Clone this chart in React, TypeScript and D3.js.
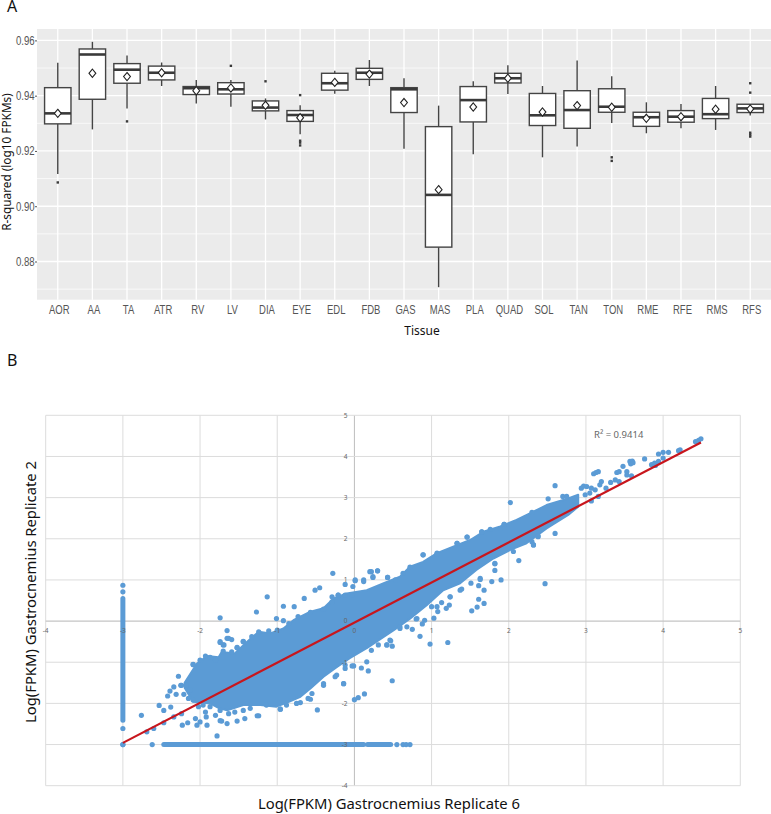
import * as d3 from 'd3';
import React, { useEffect, useRef } from 'react';

// Panel A: R-squared per tissue
const tissues = ['AOR', 'AA', 'TA', 'ATR', 'RV', 'LV', 'DIA', 'EYE', 'EDL', 'FDB', 'GAS', 'MAS', 'PLA', 'QUAD', 'SOL', 'TAN', 'TON', 'RME', 'RFE', 'RMS', 'RFS'];
const whiskerHigh = [0.9519, 0.9595, 0.9545, 0.952, 0.9457, 0.9457, 0.939, 0.9365, 0.949, 0.9529, 0.9463, 0.9364, 0.9452, 0.951, 0.9435, 0.9527, 0.947, 0.9376, 0.937, 0.9435, 0.9369];
const q3 = [0.9429, 0.9569, 0.9516, 0.9507, 0.9433, 0.9447, 0.9381, 0.9346, 0.9481, 0.9499, 0.9429, 0.9288, 0.9433, 0.9481, 0.9408, 0.9418, 0.9425, 0.934, 0.9346, 0.939, 0.9369];
const medians = [0.9336, 0.9549, 0.9494, 0.9483, 0.9427, 0.9423, 0.9357, 0.933, 0.9445, 0.9483, 0.9423, 0.9041, 0.9384, 0.9463, 0.9329, 0.9348, 0.936, 0.9322, 0.9324, 0.9333, 0.9354];
const q1 = [0.9298, 0.9387, 0.9445, 0.9457, 0.9404, 0.9406, 0.9345, 0.9307, 0.942, 0.9459, 0.9339, 0.8852, 0.9305, 0.9446, 0.9292, 0.9282, 0.934, 0.9289, 0.9304, 0.9317, 0.9339];
const whiskerLow = [0.9117, 0.9278, 0.9354, 0.9435, 0.9372, 0.936, 0.9314, 0.926, 0.9407, 0.9435, 0.9208, 0.8707, 0.9188, 0.9406, 0.9177, 0.9216, 0.9301, 0.9264, 0.9282, 0.9276, 0.9328];
const means = [0.9336, 0.9481, 0.9469, 0.9483, 0.9418, 0.9428, 0.9365, 0.932, 0.9448, 0.9478, 0.9375, 0.906, 0.9359, 0.9463, 0.9341, 0.9364, 0.9358, 0.9318, 0.9324, 0.9351, 0.9352];
const boxOutliers: [string, number][] = [
  ['AOR', 0.9086], ['TA', 0.9307], ['LV', 0.9508], ['DIA', 0.9452], ['EYE', 0.9402], ['EYE', 0.9237], ['EYE', 0.923], ['EYE', 0.922],
  ['TON', 0.9177], ['TON', 0.9164], ['RFS', 0.9445], ['RFS', 0.9411], ['RFS', 0.9266], ['RFS', 0.9259], ['RFS', 0.9252],
];
const rTicks = [0.88, 0.9, 0.92, 0.94, 0.96];
const rMinorTicks = [0.87, 0.89, 0.91, 0.93, 0.95];

// Panel B: replicate scatter. The packed middle of the cloud is kept as its upper and lower edge.
const cloudTop: [number, number][] = [
  [-2.2, -1.5], [-2.04, -1.03], [-1.91, -0.85], [-1.76, -0.88], [-1.72, -0.75], [-1.55, -0.79], [-1.39, -0.5], [-1.24, -0.26], [-1.09, -0.3],
  [-0.92, -0.18], [-0.79, 0.02], [-0.57, 0.23], [-0.4, 0.31], [-0.27, 0.55], [-0.1, 0.67], [0.16, 0.75], [0.38, 0.92], [0.59, 1.08], [0.72, 1.32],
  [0.89, 1.44], [1.07, 1.65], [1.28, 1.81], [1.5, 1.97], [1.67, 2.17], [1.89, 2.3], [2.1, 2.46], [2.28, 2.62], [2.49, 2.82], [2.77, 2.98], [2.9, 3.07],
];
const cloudBottom: [number, number][] = [
  [-2.2, -1.62], [-2.09, -1.96], [-1.87, -2.0], [-1.75, -2.12], [-1.65, -2.17], [-1.44, -2.04], [-1.22, -2.04], [-1.01, -2.08], [-0.85, -1.96], [-0.7, -1.84],
  [-0.57, -1.64], [-0.4, -1.35], [-0.23, -1.12], [-0.06, -0.9], [0.16, -0.66], [0.51, -0.22], [0.72, 0.06], [0.94, 0.39], [1.15, 0.75], [1.37, 0.92],
  [1.58, 1.24], [1.8, 1.52], [2.02, 1.73], [2.23, 1.89], [2.49, 2.25], [2.77, 2.58], [2.9, 2.78],
];
// single points standing out along the edge of the packed part
const edgePoints: [number, number][] = [
  [-2.09, -1.05], [-2.0, -0.95], [-1.93, -0.85], [-1.87, -0.88], [-1.8, -0.95], [-1.7, -0.73], [-1.59, -0.75], [-1.52, -0.64], [-1.44, -0.49], [-1.33, -0.38],
  [-1.24, -0.26], [-1.11, -0.24], [-1.0, -0.22], [-0.85, -0.06], [-0.73, 0.11], [-0.57, 0.21], [-0.4, 0.29], [-0.29, 0.47], [-0.21, 0.63], [-0.03, 0.63],
  [-1.74, -0.5], [-1.65, -0.42], [-1.59, -0.45], [-1.7, -0.58], [-2.18, -1.56], [-2.25, -1.56], [-2.13, -1.68], [-2.21, -1.78], [-2.15, -1.88], [-2.09, -1.92],
  [-1.96, -2.04], [-1.87, -2.08], [-1.93, -2.21], [-2.02, -2.08], [-1.8, -2.29], [-1.74, -2.17], [-1.72, -2.43], [-1.92, -2.33], [-1.63, -2.25], [-1.55, -2.21],
  [-1.44, -2.17], [-1.35, -2.12], [-1.24, -2.3], [-1.14, -2.04], [-0.96, -2.14], [-0.88, -2.04], [-0.7, -1.98], [-0.6, -1.88], [-0.55, -1.76], [-0.4, -1.52],
  [-0.25, -1.35], [-0.14, -1.52], [-0.12, -1.15], [-0.03, -1.09], [0.01, 0.98], [0.12, 1.0], [0.2, 1.2], [0.3, 1.22], [0.24, 1.06], [0.43, 1.06], [0.53, 1.0],
  [0.63, 1.16], [0.72, 1.31], [0.89, 1.61], [1.07, 1.65], [1.33, 1.89], [1.46, 2.04], [1.65, 2.17], [1.76, 2.23], [1.94, 2.35], [2.3, 2.64], [0.46, -0.46],
  [0.22, -0.71], [0.31, -0.58], [0.59, -0.18], [0.68, -0.14], [0.81, 0.06], [1.07, 0.35], [1.0, 0.35], [1.24, 0.59], [1.37, 0.75], [1.63, 1.04], [1.82, 1.39],
  [2.06, 1.69], [2.3, 1.93], [2.32, 1.85], [2.38, 2.05],
];
const lowPoints: [number, number][] = [
  [-0.28, 1.16], [0.22, 1.2], [0.3, 1.22], [0.24, 1.08], [0.01, 1.0], [0.12, 0.96], [-0.12, 0.89], [-0.02, 0.84], [-0.12, 0.63], [-0.21, 0.63],
  [-0.29, 0.59], [-0.45, 0.81], [-0.51, 0.75], [-0.65, 0.55], [-1.13, 0.59], [-0.92, 0.36], [-0.78, 0.35], [0.43, 1.06], [-1.27, 0.22], [-1.74, 0.08],
  [-1.01, 0.06], [-0.92, 0.01], [-1.65, -0.23], [-1.74, -0.52], [-1.63, -0.42], [-1.69, -0.58], [-1.52, -0.65], [-1.44, -0.5], [-2.09, -1.06],
  [-2.28, -1.34], [-2.34, -1.6], [-2.24, -1.56], [-2.42, -1.82], [-2.39, -1.7], [-2.31, -1.78], [-2.53, -2.05], [-2.47, -2.17], [-2.38, -2.09],
  [-2.76, -2.29], [-2.69, -2.69], [-2.6, -2.61], [-2.47, -2.47], [-2.34, -2.33], [-2.24, -2.25], [-2.23, -2.53], [-2.16, -2.47], [-2.06, -2.37],
  [-2.0, -2.45], [-2.04, -2.53], [-1.78, -2.79], [-1.65, -2.49], [-1.52, -2.43], [-1.42, -2.37], [-1.74, -2.42], [-1.91, -2.53], [-1.26, -2.3],
  [-0.96, -2.14], [-0.48, -2.16], [-0.75, -2.0], [-0.57, -1.9], [-0.14, -1.52], [0, -1.91], [0.05, -1.86], [0.13, -1.77], [-0.4, -1.56],
  [-0.23, -1.31], [-0.12, -1.07], [0.18, -1.21], [0.09, -1.14], [0.16, -0.99], [-0.01, -1.09], [0.42, -0.58],
];
const midPoints: [number, number][] = [
  [2.6, 3.29], [2.02, 2.88], [2.13, 1.47], [2.47, 0.91], [1.9, 1.0], [1.82, 1.4], [1.82, 1.23], [1.78, 0.96], [1.68, 0.75], [1.61, 0.86], [1.63, 1.01],
  [1.61, 0.53], [1.68, 0.43], [1.59, 0.34], [1.52, 0.25], [1.24, 0.59], [1.23, 0.39], [1.19, 0.31], [1.13, 0.45], [1.08, 0.23], [1.03, 0.07],
  [0.91, 0.02], [0.88, -0.07], [0.8, 0.05], [0.75, -0.2], [0.85, -0.37], [0.98, -0.56], [1.21, -0.52], [0.59, -0.14], [0.49, -0.61], [0.42, -0.58],
  [0.47, -0.48], [0.49, -1.45], [2.32, 1.85], [2.38, 2.07], [2.6, 2.13], [1.39, 0.78], [1.51, 0.92], [0.89, 1.61], [1.07, 1.63], [1.33, 1.89],
  [1.46, 2.04], [1.65, 2.17], [1.89, 2.25], [1.94, 2.35], [2.51, 2.97], [2.7, 3.03], [2.75, 3.03],
];
const highPoints: [number, number][] = [
  [2.97, 3.28], [3.01, 3.27], [2.94, 3.23], [3.07, 3.23], [3.12, 3.19], [3.05, 3.11], [2.99, 3.07], [3.16, 3.03], [3.07, 2.92], [3.1, 3.58], [3.13, 3.61],
  [3.16, 3.63], [3.2, 3.39], [3.18, 3.31], [3.26, 3.23], [3.32, 3.37], [3.38, 3.43], [3.43, 3.39], [3.4, 3.61], [3.43, 3.63], [3.48, 3.76], [3.53, 3.55],
  [3.53, 3.63], [3.59, 3.53], [3.57, 3.88], [3.6, 3.89], [3.58, 3.82], [3.61, 3.85], [3.76, 3.94], [3.85, 3.8], [3.89, 3.84], [3.94, 3.88], [3.9, 3.78],
  [4.0, 3.96], [3.94, 4.06], [4.0, 4.1], [4.07, 4.1], [4.2, 4.14], [4.22, 4.16], [4.42, 4.36], [4.46, 4.39], [4.49, 4.43],
];
// zero-value genes pile up along x = -3 and y = -3
const floorValue = -3;
const columnRun = [-2.41, 0.55];
const columnPoints = [0.87, 0.71, -2.61, -3];
const rowRuns: [number, number][] = [[-2.47, 0.12], [0.17, 0.47]];
const rowPoints = [-3, -2.62, 0.55, 0.63, 0.67, 0.72];
const trendX = [-3, 4.49];
const trendY = [-2.96, 4.34];
const scatterTicksX = [-4, -3, -2, -1, 0, 1, 2, 3, 4, 5];
const scatterTicksY = [-4, -3, -2, -1, 0, 1, 2, 3, 4, 5];

const App: React.FC = () => {
  const svgRef = useRef<SVGSVGElement>(null);

  useEffect(() => {
    if (!svgRef.current) return;
    const svg = d3.select(svgRef.current);
    svg.selectAll('*').remove();

    const titleFont = '"Noto Sans", sans-serif';
    const tickFont = '"Liberation Sans", sans-serif';

    // ---- panel A ----
    const x = d3.scalePoint<string>().domain(tissues).range([37, 771]).padding(0.6);
    const y = d3.scaleLinear().domain([0.96, 0.88]).range([40.4, 261.5]);
    const boxW = 26.4;
    const bottomA = 299.7;

    const a = svg.append('g');
    a.append('rect').attr('x', 37).attr('y', 29).attr('width', 734).attr('height', bottomA - 29).attr('fill', '#ebebeb');
    a.selectAll('.minor').data(rMinorTicks).join('line').attr('class', 'minor')
      .attr('x1', 37).attr('x2', 771).attr('y1', d => y(d)).attr('y2', d => y(d))
      .attr('stroke', '#fff').attr('stroke-width', 0.7);
    a.selectAll('.major').data(rTicks).join('line').attr('class', 'major')
      .attr('x1', 37).attr('x2', 771).attr('y1', d => y(d)).attr('y2', d => y(d))
      .attr('stroke', '#fff').attr('stroke-width', 1.3);
    a.selectAll('.vert').data(tissues).join('line').attr('class', 'vert')
      .attr('x1', d => x(d)!).attr('x2', d => x(d)!).attr('y1', 29).attr('y2', bottomA)
      .attr('stroke', '#fff').attr('stroke-width', 1.3);

    tissues.forEach((t, i) => {
      const g = a.append('g').attr('stroke', '#444').attr('fill', 'none');
      const cx = x(t)!;
      g.append('line').attr('x1', cx).attr('x2', cx).attr('y1', y(whiskerHigh[i])).attr('y2', y(q3[i])).attr('stroke-width', 1.4);
      g.append('line').attr('x1', cx).attr('x2', cx).attr('y1', y(q1[i])).attr('y2', y(whiskerLow[i])).attr('stroke-width', 1.4);
      g.append('rect').attr('x', cx - boxW / 2).attr('width', boxW).attr('y', y(q3[i])).attr('height', y(q1[i]) - y(q3[i]))
        .attr('fill', '#fff').attr('stroke-width', 1.4);
      g.append('line').attr('x1', cx - boxW / 2).attr('x2', cx + boxW / 2).attr('y1', y(medians[i])).attr('y2', y(medians[i]))
        .attr('stroke', '#3a3a3a').attr('stroke-width', 2.6);
      g.append('path').attr('transform', `translate(${cx},${y(means[i])}) scale(1,1.2)`)
        .attr('d', d3.symbol(d3.symbolDiamond2, 30)()!).attr('fill', '#fff').attr('stroke', '#222').attr('stroke-width', 1);
    });

    a.selectAll('.out').data(boxOutliers).join('rect').attr('class', 'out')
      .attr('x', d => x(d[0])! - 1.2).attr('y', d => y(d[1]) - 1.2).attr('width', 2.4).attr('height', 2.4).attr('fill', '#3a3a3a');

    // no condensed face is installed, so the tick labels are squeezed sideways
    const yAxis = a.append('g').attr('transform', 'translate(37,0)')
      .call(d3.axisLeft(y).tickValues(rTicks).tickFormat(d3.format('.2f')).tickSize(2).tickPadding(0));
    yAxis.select('.domain').remove();
    yAxis.selectAll('line').attr('stroke', '#555');
    yAxis.selectAll('text').attr('font-family', tickFont).attr('font-size', 12.5).attr('fill', '#555')
      .attr('x', -3).attr('transform', 'scale(0.77,1)');

    const xAxis = a.append('g').attr('transform', `translate(0,${bottomA})`)
      .call(d3.axisBottom(x).tickSize(0).tickPadding(5));
    xAxis.select('.domain').remove();
    xAxis.selectAll('text').attr('font-family', tickFont).attr('font-size', 12.5).attr('fill', '#555')
      .attr('transform', 'translate(1,0) scale(0.76,1)');

    a.append('text').attr('transform', 'translate(10.5,162) rotate(-90)').attr('text-anchor', 'middle')
      .attr('font-family', titleFont).attr('font-size', 11.8).attr('fill', '#111').text('R-squared (log10 FPKMs)');
    a.append('text').attr('x', 422).attr('y', 335).attr('text-anchor', 'middle')
      .attr('font-family', titleFont).attr('font-size', 12).attr('fill', '#111').text('Tissue');

    svg.append('text').attr('x', 7).attr('y', 11.7).attr('font-family', titleFont).attr('font-size', 16).attr('fill', '#111').text('A');
    svg.append('text').attr('x', 7).attr('y', 366).attr('font-family', titleFont).attr('font-size', 16).attr('fill', '#111').text('B');

    // ---- panel B ----
    const sx = d3.scaleLinear().domain([-4, 5]).range([45.7, 740.3]);
    const sy = d3.scaleLinear().domain([-4, 5]).range([785.7, 415.3]);
    const b = svg.append('g');

    b.selectAll('.gx').data(scatterTicksX).join('line').attr('class', 'gx')
      .attr('x1', d => sx(d)).attr('x2', d => sx(d)).attr('y1', sy(5)).attr('y2', sy(-4))
      .attr('stroke', d => d === 0 ? '#bdbdbd' : '#dcdcdc').attr('stroke-width', 1);
    b.selectAll('.gy').data(scatterTicksY).join('line').attr('class', 'gy')
      .attr('x1', sx(-4)).attr('x2', sx(5)).attr('y1', d => sy(d)).attr('y2', d => sy(d))
      .attr('stroke', d => d === 0 ? '#c4c4c4' : '#dcdcdc').attr('stroke-width', d => d === 0 ? 1.4 : 1);

    const blue = '#5b9bd5';
    const line = d3.line<[number, number]>().x(d => sx(d[0])).y(d => sy(d[1]));
    b.append('path').attr('d', line([...cloudTop, ...[...cloudBottom].reverse()])! + 'Z')
      .attr('fill', blue).attr('stroke', blue).attr('stroke-width', 2).attr('stroke-linejoin', 'round');

    b.append('line').attr('x1', sx(floorValue)).attr('x2', sx(floorValue))
      .attr('y1', sy(columnRun[0])).attr('y2', sy(columnRun[1]))
      .attr('stroke', blue).attr('stroke-width', 5).attr('stroke-linecap', 'round');
    b.selectAll('.run').data(rowRuns).join('line').attr('class', 'run')
      .attr('x1', d => sx(d[0])).attr('x2', d => sx(d[1])).attr('y1', sy(floorValue)).attr('y2', sy(floorValue))
      .attr('stroke', blue).attr('stroke-width', 5).attr('stroke-linecap', 'round');

    const dots: [number, number][] = [
      ...edgePoints, ...lowPoints, ...midPoints, ...highPoints,
      ...columnPoints.map((v): [number, number] => [floorValue, v]),
      ...rowPoints.map((v): [number, number] => [v, floorValue]),
    ];
    b.selectAll('.dot').data(dots).join('circle').attr('class', 'dot')
      .attr('cx', d => sx(d[0])).attr('cy', d => sy(d[1])).attr('r', 2.6).attr('fill', blue);

    b.append('line').attr('x1', sx(trendX[0])).attr('y1', sy(trendY[0])).attr('x2', sx(trendX[1])).attr('y2', sy(trendY[1]))
      .attr('stroke', '#c8161d').attr('stroke-width', 2.2);

    // tick labels sit on top of the points
    b.selectAll('.tx').data(scatterTicksX).join('text').attr('class', 'tx')
      .attr('x', d => sx(d)).attr('y', 632.5).attr('text-anchor', 'middle')
      .attr('font-family', titleFont).attr('font-size', 6.5).attr('fill', '#666').text(d => d);
    b.selectAll('.ty').data(scatterTicksY).join('text').attr('class', 'ty')
      .attr('x', 347.5).attr('y', d => sy(d) + 2.3).attr('text-anchor', 'end')
      .attr('font-family', titleFont).attr('font-size', 6.5).attr('fill', '#666').text(d => d);

    b.append('text').attr('x', 594).attr('y', 438).attr('font-family', titleFont).attr('font-size', 9.5).attr('fill', '#666').text('R² = 0.9414');
    b.append('text').attr('transform', 'translate(36,592) rotate(-90)').attr('text-anchor', 'middle')
      .attr('font-family', titleFont).attr('font-size', 14.8).attr('fill', '#111').text('Log(FPKM) Gastrocnemius Replicate 2');
    b.append('text').attr('x', 389).attr('y', 809).attr('text-anchor', 'middle')
      .attr('font-family', titleFont).attr('font-size', 14.8).attr('fill', '#111').text('Log(FPKM) Gastrocnemius Replicate 6');
  }, []);

  return <svg ref={svgRef} width={771} height={814} style={{ position: 'absolute', left: 0, top: 0, display: 'block' }} />;
};

export default App;
